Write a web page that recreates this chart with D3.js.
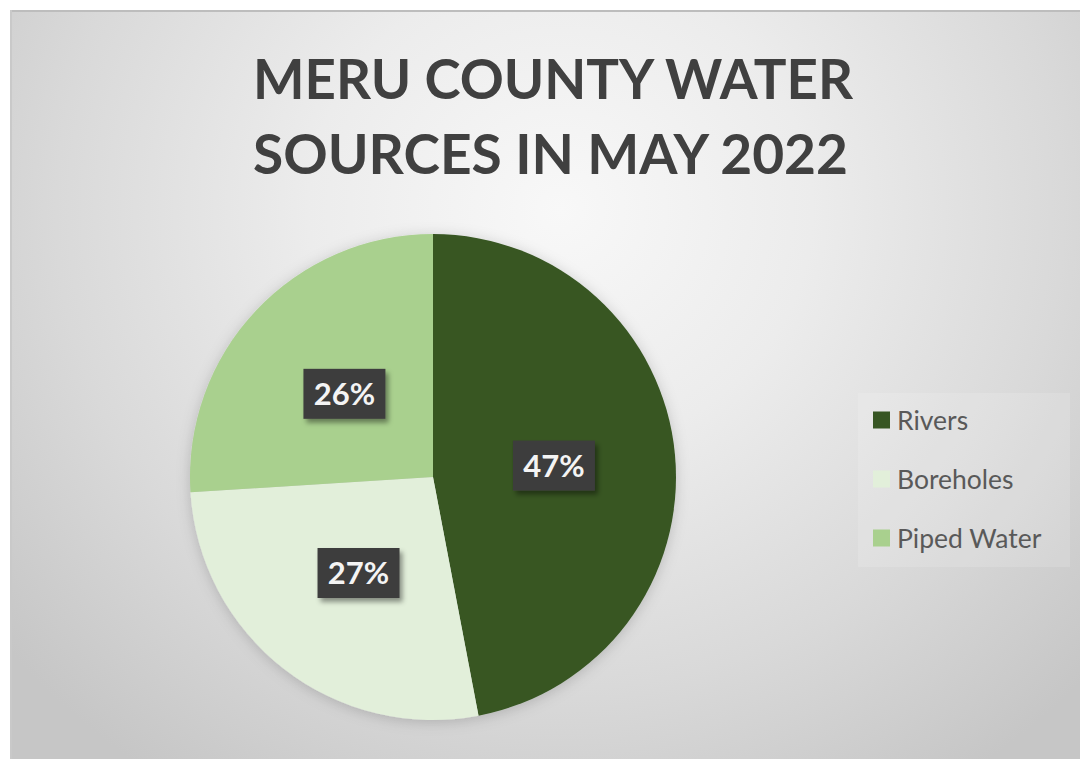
<!DOCTYPE html>
<html>
<head>
<meta charset="utf-8">
<script src="https://cdn.jsdelivr.net/npm/d3@7"></script>
<style>
  html, body { margin: 0; padding: 0; background: #ffffff; }
  svg { display: block; }
</style>
</head>
<body>
<svg id="chart" width="1080" height="759"></svg>
<script>
// Water source shares, Meru County, May 2022
const categories = ["Rivers", "Boreholes", "Piped Water"];
const shares = [47, 27, 26];
const sliceColors = ["#375623", "#e2efda", "#a9d08e"];
const titleLines = ["MERU COUNTY WATER", "SOURCES IN MAY 2022"];

const W = 1080, H = 759;
const svg = d3.select("#chart");
const defs = svg.append("defs");

// Soft radial background of the chart area
const bg = defs.append("radialGradient")
  .attr("id", "bgGrad")
  .attr("gradientUnits", "userSpaceOnUse")
  .attr("cx", 560).attr("cy", 210).attr("r", 720)
  .attr("gradientTransform", "translate(560,210) scale(1,0.95) translate(-560,-210)");
[[0, "#f8f8f8"], [0.35, "#ececec"], [0.7, "#d9d9d9"], [1, "#c6c6c6"]]
  .forEach(([o, c]) => bg.append("stop").attr("offset", o).attr("stop-color", c));

const pieShadow = defs.append("filter").attr("id", "pieShadow")
  .attr("x", "-20%").attr("y", "-20%").attr("width", "140%").attr("height", "140%");
pieShadow.append("feDropShadow").attr("dx", 0).attr("dy", 2)
  .attr("stdDeviation", 7).attr("flood-color", "#000").attr("flood-opacity", 0.18);

const boxShadow = defs.append("filter").attr("id", "boxShadow")
  .attr("x", "-30%").attr("y", "-30%").attr("width", "160%").attr("height", "160%");
boxShadow.append("feDropShadow").attr("dx", 3).attr("dy", 4)
  .attr("stdDeviation", 2.5).attr("flood-color", "#000").attr("flood-opacity", 0.4);

// Chart area
svg.append("rect").attr("x", 10).attr("y", 10).attr("width", W - 10).attr("height", H - 10)
  .attr("fill", "url(#bgGrad)");
svg.append("line").attr("x1", 10).attr("x2", W).attr("y1", 11).attr("y2", 11)
  .attr("stroke", "#bdbdbd").attr("stroke-width", 2);
svg.append("line").attr("x1", 11).attr("x2", 11).attr("y1", 10).attr("y2", H)
  .attr("stroke", "#c9c9c9").attr("stroke-width", 2);

// Title
const titleWidths = [600, 595];
svg.append("g").selectAll("text").data(titleLines).join("text")
  .attr("x", 253)
  .attr("y", (d, i) => 99 + i * 75)
  .attr("font-family", "Lato, 'Open Sans', sans-serif")
  .attr("font-weight", 700)
  .attr("font-size", 55)
  .attr("fill", "#404040")
  .attr("textLength", (d, i) => titleWidths[i])
  .attr("lengthAdjust", "spacingAndGlyphs")
  .text(d => d);

// Pie
const cx = 433, cy = 477, R = 243;
const pie = d3.pie().sort(null).value(d => d.value);
const data = categories.map((c, i) => ({ name: c, value: shares[i] }));
const arcs = pie(data);
const arc = d3.arc().innerRadius(0).outerRadius(R);
const color = d3.scaleOrdinal().domain(categories).range(sliceColors);

const pieG = svg.append("g").attr("transform", `translate(${cx},${cy})`);
pieG.append("g").attr("filter", "url(#pieShadow)")
  .selectAll("path").data(arcs).join("path")
  .attr("d", arc)
  .attr("fill", d => color(d.data.name));

// Data labels in dark boxes
const total = d3.sum(shares);
const labelG = pieG.selectAll("g.lbl").data(arcs).join("g")
  .attr("class", "lbl")
  .attr("transform", d => `translate(${arc.centroid(d)})`);
labelG.append("rect")
  .attr("x", -41).attr("y", -25).attr("width", 82).attr("height", 50)
  .attr("fill", "#3d3d3d")
  .attr("filter", "url(#boxShadow)");
labelG.append("text")
  .attr("text-anchor", "middle")
  .attr("dy", "0.36em")
  .attr("font-family", "Lato, 'Open Sans', sans-serif")
  .attr("font-weight", 700)
  .attr("font-size", 31)
  .attr("fill", "#f4f4f4")
  .text(d => Math.round(d.data.value / total * 100) + "%");

// Legend
const legend = svg.append("g");
legend.append("rect").attr("x", 858).attr("y", 393).attr("width", 212).attr("height", 174)
  .attr("fill", "#ffffff").attr("fill-opacity", 0.14);
const legY = d3.scalePoint().domain(categories).range([420, 538]);
const item = legend.selectAll("g.item").data(categories).join("g")
  .attr("class", "item")
  .attr("transform", d => `translate(873,${legY(d)})`);
item.append("rect").attr("x", 0).attr("y", -8.5).attr("width", 17).attr("height", 17)
  .attr("fill", d => color(d));
item.append("text")
  .attr("x", 24).attr("dy", "0.36em")
  .attr("font-family", "Lato, 'Open Sans', sans-serif")
  .attr("font-size", 26.5)
  .attr("fill", "#595959")
  .text(d => d);
</script>
</body>
</html>
